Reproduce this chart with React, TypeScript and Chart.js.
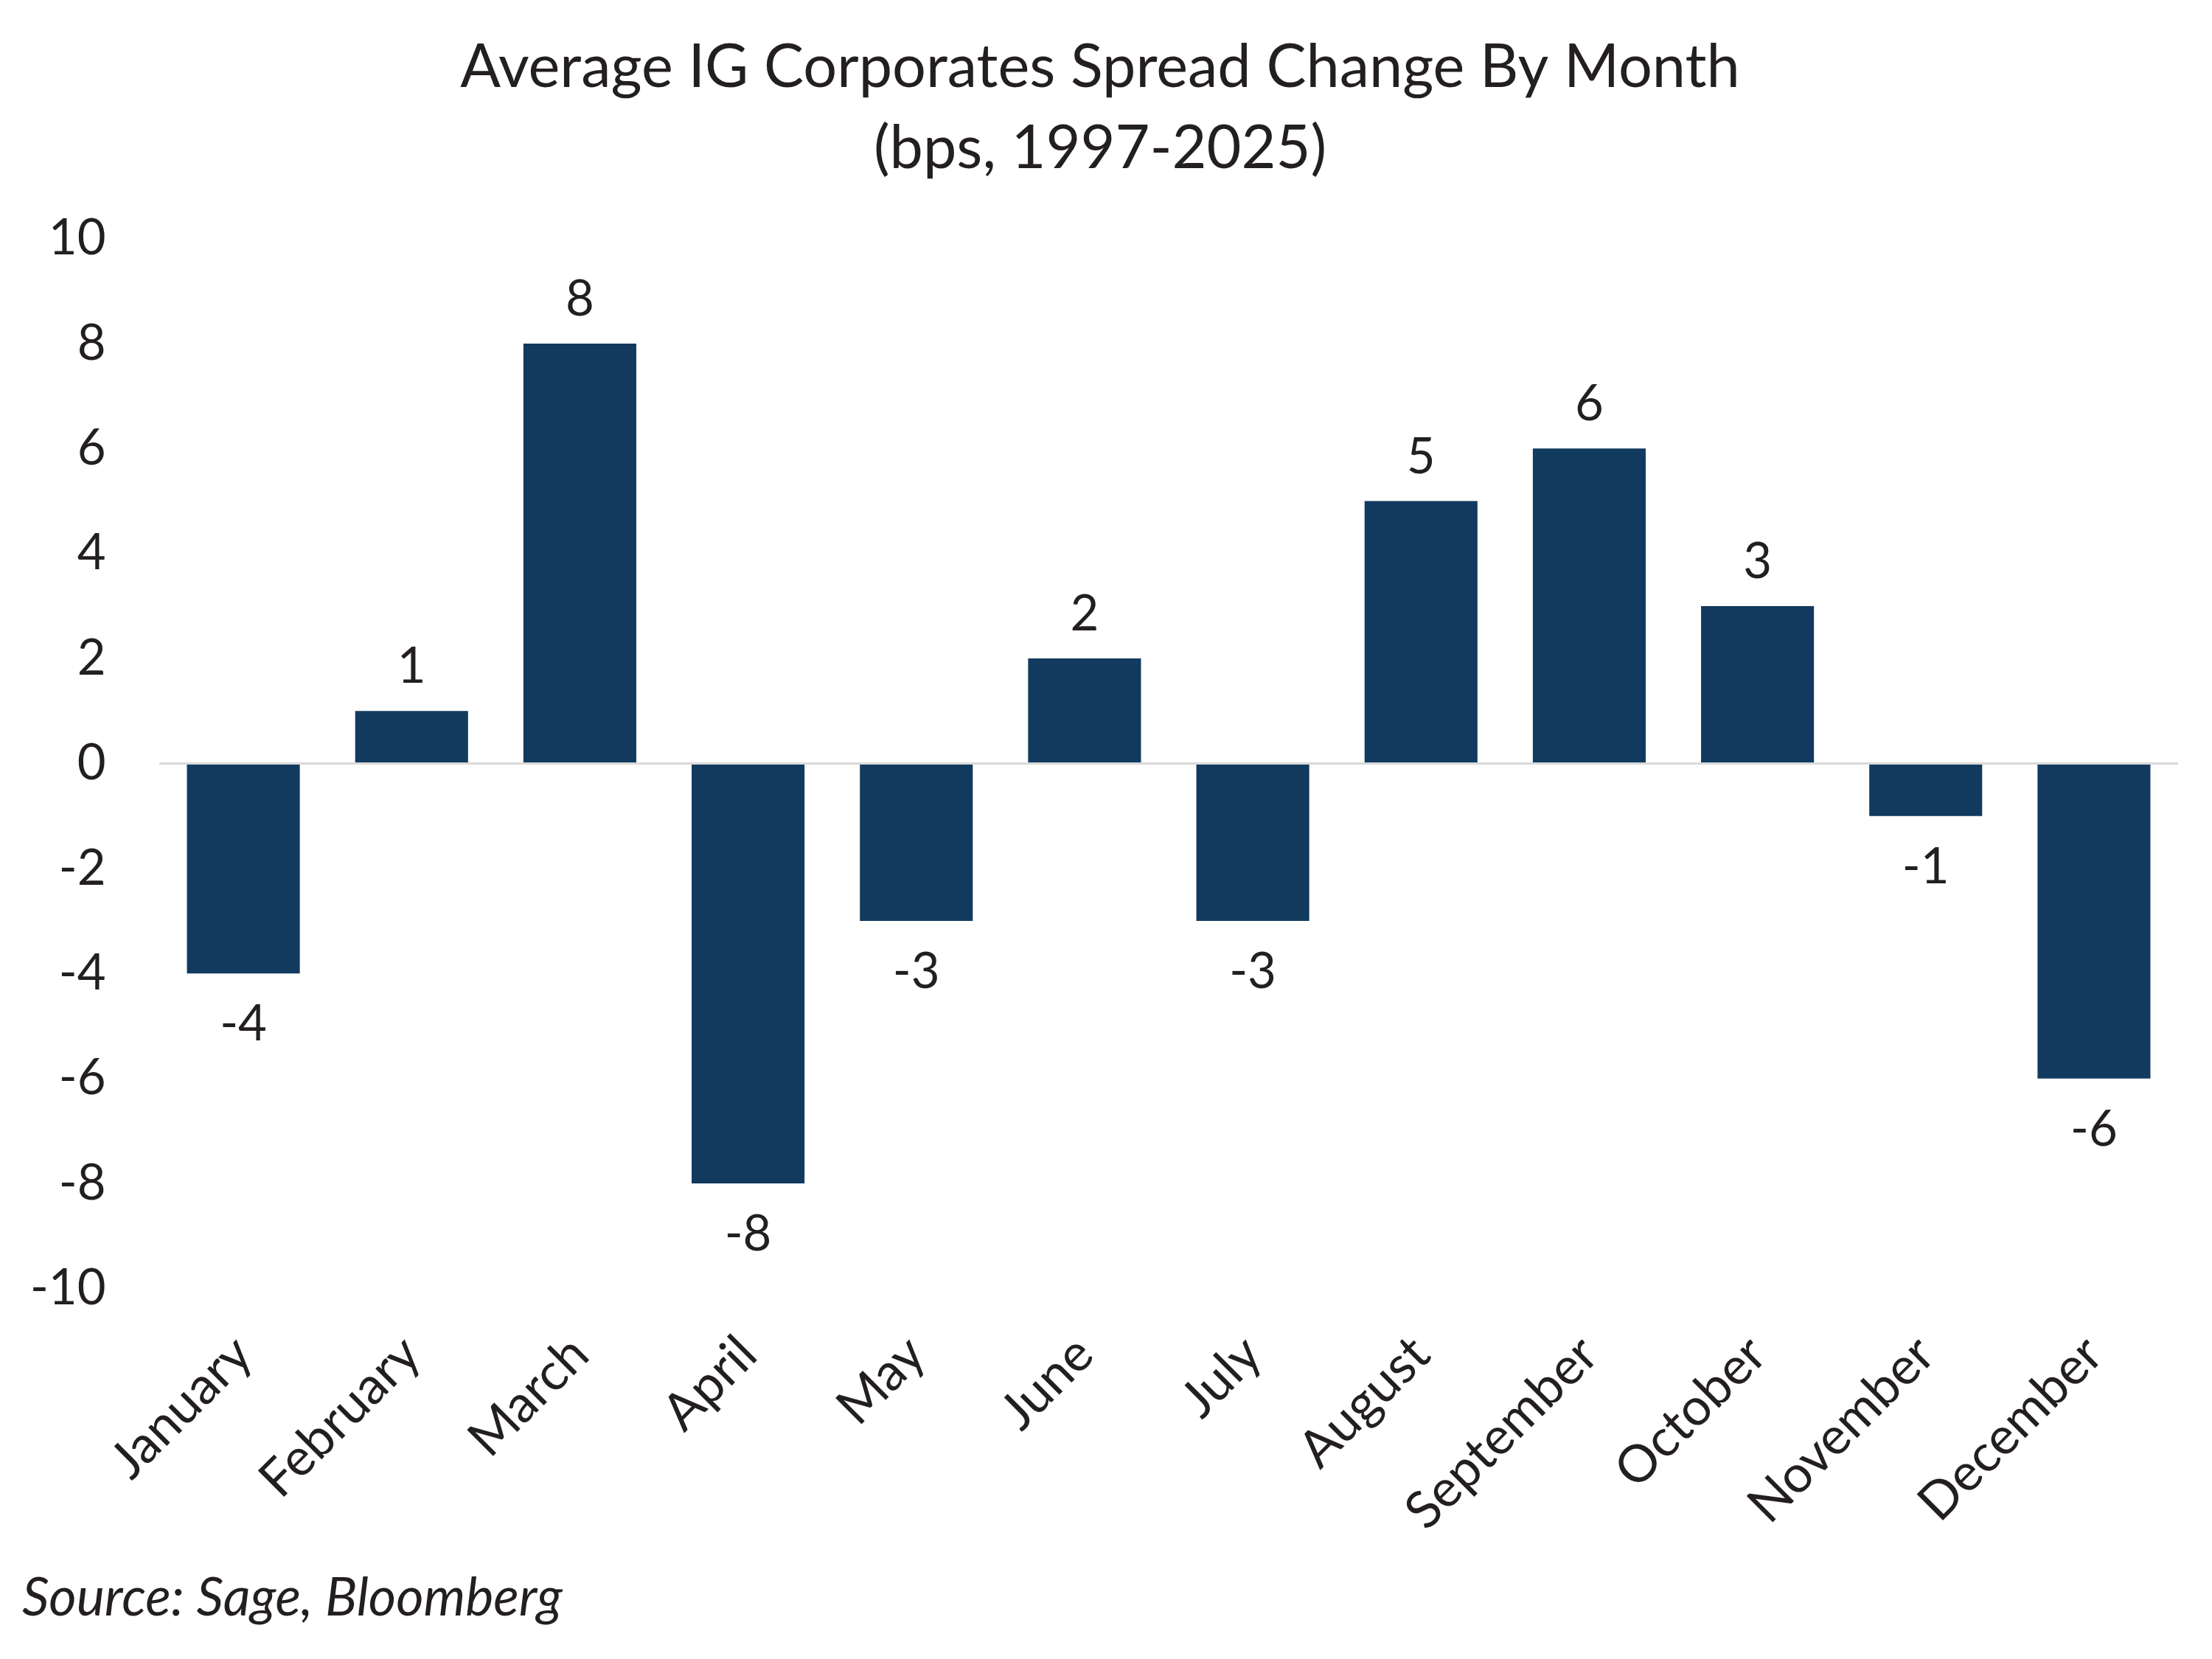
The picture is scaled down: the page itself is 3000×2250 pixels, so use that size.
import React, { useEffect, useRef } from "react";
import { Chart, registerables } from "chart.js";

Chart.register(...registerables);

const months = [
  "January", "February", "March", "April", "May", "June",
  "July", "August", "September", "October", "November", "December",
];
const spreadChange = [-4, 1, 8, -8, -3, 2, -3, 5, 6, 3, -1, -6];
const titleLines = ["Average IG Corporates Spread Change By Month", "(bps, 1997-2025)"];
const sourceText = "Source: Sage, Bloomberg";
const yMin = -10;
const yMax = 10;
const yStep = 2;

const FONT = "Lato, 'Open Sans', sans-serif";
const TEXT = "#231F20";
const BAR = "#113A5E";

const valueLabels = {
  id: "valueLabels",
  afterDatasetsDraw(chart: any) {
    const ctx = chart.ctx;
    const meta = chart.getDatasetMeta(0);
    ctx.save();
    ctx.font = `67px ${FONT}`;
    ctx.fillStyle = TEXT;
    ctx.textAlign = "center";
    ctx.textBaseline = "alphabetic";
    meta.data.forEach((bar: any, i: number) => {
      const v = spreadChange[i];
      const y = v >= 0 ? bar.y - 38 : bar.y + 91;
      ctx.fillText(String(v), bar.x, y);
    });
    ctx.restore();
  },
};

export default function App() {
  const ref = useRef<HTMLCanvasElement | null>(null);
  useEffect(() => {
    document.body.style.margin = "0";
    if (!ref.current) return;
    const chart = new Chart(ref.current, {
      type: "bar",
      data: {
        labels: months,
        datasets: [
          {
            data: spreadChange,
            backgroundColor: BAR,
            borderWidth: 0,
            barPercentage: 0.671,
            categoryPercentage: 1,
          },
        ],
      },
      options: {
        animation: false,
        responsive: false,
        devicePixelRatio: 1,
        layout: { padding: { left: 30, right: 46, top: 0, bottom: 0 } },
        plugins: {
          legend: { display: false },
          tooltip: { enabled: false },
          title: {
            display: true,
            text: titleLines,
            color: TEXT,
            font: { family: FONT, size: 81, weight: "normal", lineHeight: 110 / 81 },
            padding: { top: 37, bottom: 66.5 },
          },
          subtitle: {
            display: true,
            position: "bottom",
            align: "start",
            text: sourceText,
            color: TEXT,
            font: { family: FONT, size: 72, style: "italic", weight: "normal", lineHeight: 1.2 },
            padding: { top: 0, bottom: 38.8 },
          },
        },
        scales: {
          x: {
            grid: { display: false },
            border: { display: false },
            ticks: {
              color: TEXT,
              font: { family: FONT, size: 70 },
              minRotation: 45,
              maxRotation: 45,
              padding: 40,
            },
            afterFit(scale: any) {
              scale.height = 377.3;
            },
          },
          y: {
            min: yMin,
            max: yMax,
            border: { display: false },
            grid: {
              drawTicks: false,
              lineWidth: 3,
              color: (c: any) => (c.tick && c.tick.value === 0 ? "#D9D9D9" : "rgba(0,0,0,0)"),
            },
            ticks: {
              stepSize: yStep,
              color: TEXT,
              font: { family: FONT, size: 67 },
              padding: 72.5,
            },
            afterFit(scale: any) {
              scale.width = 186;
            },
          },
        },
      },
      plugins: [valueLabels],
    });
    return () => chart.destroy();
  }, []);
  return (
    <div style={{ width: 3000, height: 2250 }}>
      <canvas ref={ref} width={3000} height={2250} style={{ width: 3000, height: 2250, display: "block" }} />
    </div>
  );
}
